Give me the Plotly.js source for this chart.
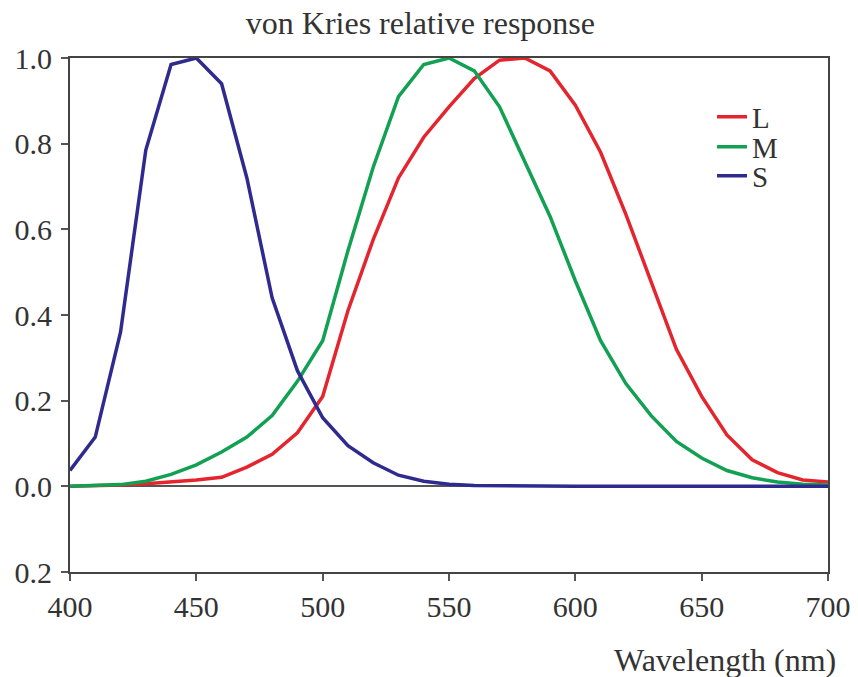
<!DOCTYPE html>
<html>
<head>
<meta charset="utf-8">
<script src="https://cdn.plot.ly/plotly-3.0.1.min.js"></script>
<style>html,body{margin:0;padding:0;background:#fff;}#chart{width:858px;height:677px;}</style>
</head>
<body>
<div id="chart"></div>
<script>
var wavelength = [400,410,420,430,440,450,460,470,480,490,500,510,520,530,540,550,560,570,580,590,600,610,620,630,640,650,660,670,680,690,700];
var L = [0.0,0.001,0.003,0.006,0.01,0.015,0.021,0.045,0.075,0.125,0.21,0.41,0.576,0.72,0.815,0.886,0.952,0.995,1.0,0.97,0.89,0.78,0.635,0.476,0.32,0.21,0.12,0.062,0.032,0.015,0.01];
var M = [0.0,0.001,0.004,0.012,0.028,0.05,0.08,0.115,0.165,0.245,0.34,0.55,0.745,0.91,0.985,1.0,0.97,0.886,0.76,0.63,0.48,0.34,0.24,0.165,0.105,0.066,0.037,0.02,0.01,0.005,0.003];
var S = [0.037,0.115,0.36,0.785,0.985,1.0,0.94,0.72,0.44,0.27,0.16,0.095,0.055,0.026,0.012,0.005,0.002,0.001,0,0,0,0,0,0,0,0,0,0,0,0,0];
var seriesNames = ['L','M','S'];
var seriesColors = ['#e4252e','#12a052','#2f2a8e'];
var yTickVals = [-0.2,0,0.2,0.4,0.6,0.8,1.0];
var yTickText = ['0.2','0.0','0.2','0.4','0.6','0.8','1.0'];
var xTickVals = [400,450,500,550,600,650,700];
var titleText = 'von Kries relative response';
var xTitleText = 'Wavelength (nm)';

var font = "'Liberation Serif', 'Times New Roman', serif";
var legendIds = ['legend','legend2','legend3'];
var data = [L, M, S].map(function(vals, i){
  return {x: wavelength, y: vals, type: 'scatter', mode: 'lines', name: seriesNames[i],
          legend: legendIds[i], line: {color: seriesColors[i], width: 3.5}};
});
function legendAt(ypx){
  return {x: 0.847, xanchor: 'left', y: (572 - ypx) / 514, yanchor: 'middle', bgcolor: 'rgba(0,0,0,0)',
          font: {family: font, size: 29, color: '#333'}};
}
var layout = {
  width: 858, height: 677,
  margin: {l: 70, r: 30, t: 58, b: 105},
  paper_bgcolor: '#fff', plot_bgcolor: '#fff',
  font: {family: font, color: '#333', size: 30},
  title: {text: titleText, font: {family: font, size: 32, color: '#333'},
          xref: 'container', x: 0.49, xanchor: 'center', yref: 'container', y: 0.966, yanchor: 'middle'},
  xaxis: {range: [400, 700], tickvals: xTickVals, ticks: 'outside', ticklen: 7, tickwidth: 2, tickcolor: '#555',
          showline: true, mirror: true, linecolor: '#444', linewidth: 2, showgrid: false, zeroline: false,
          tickfont: {family: font, size: 30, color: '#333'}, title: {text: ''}},
  yaxis: {range: [-0.2, 1.0], tickvals: yTickVals, ticktext: yTickText, ticks: 'outside', ticklen: 7, tickwidth: 2, tickcolor: '#555',
          showline: true, mirror: true, linecolor: '#444', linewidth: 2, showgrid: false,
          zeroline: true, zerolinecolor: '#555', zerolinewidth: 2, ticklabelstandoff: 3,
          tickfont: {family: font, size: 30, color: '#333'}},
  showlegend: true,
  legend: legendAt(117),
  legend2: legendAt(147),
  legend3: legendAt(176),
  annotations: [{text: xTitleText, xref: 'paper', yref: 'paper', x: 1.013, y: -0.171, xanchor: 'right', yanchor: 'middle',
                 showarrow: false, font: {family: font, size: 32, color: '#333'}}]
};
Plotly.newPlot('chart', data, layout, {displayModeBar: false, staticPlot: true});
</script>
</body>
</html>
